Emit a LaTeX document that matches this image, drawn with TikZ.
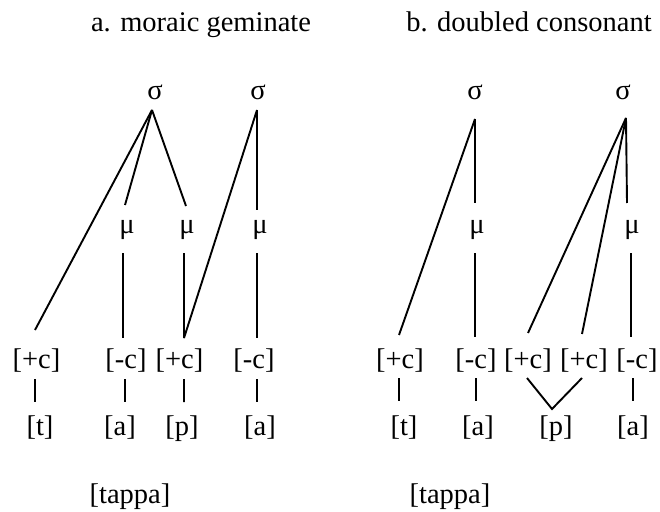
\documentclass[tikz,border=0pt]{standalone}
\usepackage{fontspec}
\setmainfont{Liberation Serif}
\usetikzlibrary{calc}
\begin{document}
\begin{tikzpicture}[x=1bp,y=-1bp,
  lbl/.style={inner sep=0pt, anchor=base, font=\fontsize{28.6}{34}\selectfont},
  link/.style={line width=1.9bp, line cap=butt, line join=miter}]
\useasboundingbox (0,0) rectangle (660,512);
% titles
\node[lbl] (ta) at (201,32) {a. moraic geminate};
\node[lbl] (tb) at (529,32) {b. doubled consonant};
% syllables
\node[lbl] (s1) at (155,100) {σ};
\node[lbl] (s2) at (258,100) {σ};
\node[lbl] (s3) at (475,100) {σ};
\node[lbl] (s4) at (623,100) {σ};
% moras
\node[lbl] (m1) at (127,234) {μ};
\node[lbl] (m2) at (187,234) {μ};
\node[lbl] (m3) at (260,234) {μ};
\node[lbl] (m4) at (477,234) {μ};
\node[lbl] (m5) at (632,234) {μ};
% features
\node[lbl] (c1) at (36.5,368) {[+c]};
\node[lbl] (c2) at (126,368) {[-c]};
\node[lbl] (c3) at (179.5,368) {[+c]};
\node[lbl] (c4) at (254,368) {[-c]};
\node[lbl] (c5) at (400,368) {[+c]};
\node[lbl] (c6) at (476,368) {[-c]};
\node[lbl] (c7) at (528,368) {[+c]};
\node[lbl] (c8) at (584,368) {[+c]};
\node[lbl] (c9) at (637,368) {[-c]};
% segments
\node[lbl] (p1) at (40,435) {[t]};
\node[lbl] (p2) at (120,435) {[a]};
\node[lbl] (p3) at (182,435) {[p]};
\node[lbl] (p4) at (260,435) {[a]};
\node[lbl] (p5) at (404,435) {[t]};
\node[lbl] (p6) at (478,435) {[a]};
\node[lbl] (p7) at (556,435) {[p]};
\node[lbl] (p8) at (633,435) {[a]};
% words
\node[lbl] (w1) at (130,503) {[tappa]};
\node[lbl] (w2) at (450,503) {[tappa]};
% left diagram links
\draw[link] ($(s1.base)+(-3,10)$) -- ($(c1.base)+(-1.5,-38)$);
\draw[link] ($(s1.base)+(-3,10)$) -- ($(m1.base)+(-2,-29)$);
\draw[link] ($(s1.base)+(-3,10)$) -- ($(m2.base)+(-1,-28)$);
\draw[link] ($(s2.base)+(-1,10)$) -- ($(c3.base)+(4.5,-30)$);
\draw[link] ($(s2.base)+(-1,10)$) -- ($(m3.base)+(-3,-24)$);
\draw[link] ($(m1.base)+(-4,19)$) -- ($(c2.base)+(-3,-30)$);
\draw[link] ($(m2.base)+(-3,19)$) -- ($(c3.base)+(4.5,-30)$);
\draw[link] ($(m3.base)+(-3,19)$) -- ($(c4.base)+(3,-30)$);
\draw[link] ($(c1.base)+(-1.5,11)$) -- ($(p1.base)+(-5,-33)$);
\draw[link] ($(c2.base)+(-1,11)$) -- ($(p2.base)+(5,-33)$);
\draw[link] ($(c3.base)+(4.5,11)$) -- ($(p3.base)+(2,-33)$);
\draw[link] ($(c4.base)+(3,11)$) -- ($(p4.base)+(-3,-33)$);
% right diagram links
\draw[link] ($(s3.base)+(0,19)$) -- ($(m4.base)+(-2,-31)$);
\draw[link] ($(s3.base)+(0,19)$) -- ($(c5.base)+(-1,-33)$);
\draw[link] ($(m4.base)+(-2,19)$) -- ($(c6.base)+(-1,-31)$);
\draw[link] ($(s4.base)+(3,18)$) -- ($(m5.base)+(-5,-31)$);
\draw[link] ($(s4.base)+(3,18)$) -- ($(c7.base)+(0,-35)$);
\draw[link] ($(s4.base)+(3,18)$) -- ($(c8.base)+(-2,-34)$);
\draw[link] ($(m5.base)+(-1,19)$) -- ($(c9.base)+(-6,-31)$);
\draw[link] ($(c5.base)+(-1,10)$) -- ($(p5.base)+(-5,-34)$);
\draw[link] ($(c6.base)+(0,10)$) -- ($(p6.base)+(-2,-34)$);
\draw[link] ($(c7.base)+(-1,10)$) -- ($(p7.base)+(-4,-26)$) -- ($(c8.base)+(-2,10)$);
\draw[link] ($(c9.base)+(-4,10)$) -- ($(p8.base)+(0,-34)$);
\end{tikzpicture}
\end{document}
